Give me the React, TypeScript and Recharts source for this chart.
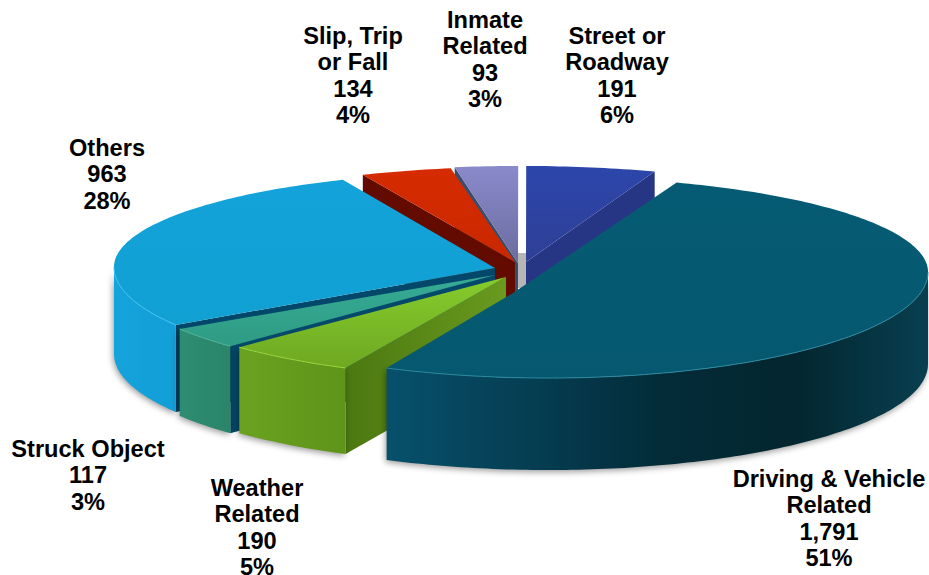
import { Pie, PieChart } from "recharts";

const names = [
  "Street or Roadway",
  "Inmate Related",
  "Slip, Trip or Fall",
  "Others",
  "Struck Object",
  "Weather Related",
  "Driving & Vehicle Related",
];
const incidents = [191, 93, 134, 963, 117, 190, 1791];
const shares = ["6%", "3%", "4%", "28%", "3%", "5%", "51%"];
const titleLines = [
  ["Street or", "Roadway"],
  ["Inmate", "Related"],
  ["Slip, Trip", "or Fall"],
  ["Others"],
  ["Struck Object"],
  ["Weather", "Related"],
  ["Driving & Vehicle", "Related"],
];

const chartData = names.map((name, i) => ({ name, value: incidents[i] }));

// label anchor: centre x and the baseline of the first line
const LABEL_POS = [
  [617, 44],
  [485, 28],
  [353, 44],
  [107, 156],
  [88, 457],
  [257, 496],
  [829, 487],
];

const TILT_BACK = 0.25;
const TILT_FRONT = 0.279;

interface SliceLook {
  shift: [number, number];
  apex: [number, number];
  depth: number;
  top: [string, string];
  rim: string[];
  wall: [string, string];
  edge?: string;
}

const LOOKS: SliceLook[] = [
  { shift: [8, -4], apex: [0, 1], depth: 85, top: ["#2c46ab", "#2f3f96"], rim: ["#253382"], wall: ["#263584", "#263584"] },
  { shift: [0, -4], apex: [0, 2], depth: 85, top: ["#8a8acb", "#6b6c9f"], rim: ["#55568a"], wall: ["#3b4d6c", "#3b4d6c"] },
  { shift: [-4, -3], apex: [1, 0], depth: 85, top: ["#d62b00", "#c92800"], rim: ["#650c00"], wall: ["#640b00", "#640b00"] },
  { shift: [-24, 2], apex: [1, 1], depth: 87, top: ["#13a3da", "#11a0d2"], rim: ["#15a3dc", "#129ed6"], wall: ["#03476b", "#03476b"], edge: "#3cc4f2" },
  { shift: [-20, 6], apex: [-3, 4], depth: 87, top: ["#36ab95", "#2f9c84"], rim: ["#2e8d72", "#2a8468"], wall: ["#04496a", "#04496a"], edge: "#55b89c" },
  { shift: [-11, 7], apex: [-1, 5], depth: 86, top: ["#86cc2c", "#6ea822"], rim: ["#6aa220", "#5e9419"], wall: ["#6a9a1e", "#4c7811"], edge: "#9ed840" },
  {
    shift: [30, 7],
    apex: [-35, 21],
    depth: 92,
    top: ["#065b74", "#05586f"],
    rim: ["#07506b", "#053f54", "#032c39", "#03262f", "#083f50"],
    wall: ["#04465c", "#04465c"],
    edge: "#2c8aa0",
  },
];

const toRad = (deg: number) => (deg * Math.PI) / 180;

// Sector drawn as a tilted slab: clockwise angle t from 12 o'clock, squashed by the tilt
function SlabSector(props: any) {
  const { cx, cy, outerRadius, startAngle, endAngle, index } = props;
  const look = LOOKS[index];
  const ox = cx + look.shift[0];
  const oy = cy + look.shift[1];
  const ax = ox + look.apex[0];
  const ay = oy + look.apex[1];

  const rimAt = (t: number): [number, number] => {
    const c = Math.cos(toRad(t));
    const ry = outerRadius * (c > 0 ? TILT_BACK : TILT_FRONT);
    return [ox + outerRadius * Math.sin(toRad(t)), oy - ry * c];
  };
  const walk = (a: number, b: number) => {
    const pts: [number, number][] = [];
    const n = Math.max(2, Math.ceil(Math.abs(b - a)));
    for (let i = 0; i <= n; i++) pts.push(rimAt(a + ((b - a) * i) / n));
    return pts;
  };
  const line = (pts: [number, number][]) =>
    pts.map((p, i) => `${i ? "L" : "M"}${p[0].toFixed(1)} ${p[1].toFixed(1)}`).join(" ");

  // clockwise angles run from t1 to t2, both kept in 0..360
  const t2 = ((90 - startAngle) % 360 + 360) % 360;
  let t1 = ((90 - endAngle) % 360 + 360) % 360;
  const end = t2 === 0 ? 360 : t2;
  if (t1 >= end) t1 -= 360;
  const arc = walk(t1, end);

  const depth = look.depth;
  const down = (p: [number, number]): [number, number] => [p[0], p[1] + depth];
  const apex: [number, number] = [ax, ay];

  // radial wall on whichever side faces the viewer
  const wallAt = Math.sin(toRad(t1)) < 0 ? t1 : Math.sin(toRad(end)) > 0 ? end : null;
  const wallPath =
    wallAt === null
      ? null
      : line([apex, rimAt(wallAt), down(rimAt(wallAt)), down(apex)]) + " Z";

  // outer wall only exists on the front half of the rim
  const from = Math.max(t1, 90);
  const to = Math.min(end, 270);
  const frontArc = to > from ? walk(from, to) : [];
  const rimPath = frontArc.length
    ? line(frontArc) + " " + line([...frontArc].reverse().map(down)).replace("M", "L") + " Z"
    : null;

  const rimId = `rim-${index}`;
  const topId = `top-${index}`;
  const wallId = `wall-${index}`;
  const xs = frontArc.map((p) => p[0]);
  return (
    <g>
      <defs>
        <linearGradient id={topId} x1="0" y1="0" x2="0" y2="1">
          <stop offset="0" stopColor={look.top[0]} />
          <stop offset="1" stopColor={look.top[1]} />
        </linearGradient>
        {wallAt !== null && (
          <linearGradient
            id={wallId}
            gradientUnits="userSpaceOnUse"
            x1={ax}
            y1="0"
            x2={rimAt(wallAt)[0]}
            y2="0"
          >
            <stop offset="0" stopColor={look.wall[0]} />
            <stop offset="1" stopColor={look.wall[1]} />
          </linearGradient>
        )}
        {xs.length > 0 && (
          <linearGradient
            id={rimId}
            gradientUnits="userSpaceOnUse"
            x1={Math.min(...xs)}
            y1="0"
            x2={Math.max(...xs)}
            y2="0"
          >
            {look.rim.map((c, i) => (
              <stop key={i} offset={look.rim.length > 1 ? i / (look.rim.length - 1) : 0} stopColor={c} />
            ))}
          </linearGradient>
        )}
      </defs>
      {index === 0 && <rect x={cx} y={cy - 12} width={8} height={35} fill="#b6b6b6" />}
      {wallPath && <path d={wallPath} fill={`url(#${wallId})`} />}
      {rimPath && (
        <path
          d={rimPath}
          fill={`url(#${rimId})`}
          style={{ filter: "drop-shadow(-1px 2px 3px rgba(0,0,0,0.4))" }}
        />
      )}
      <path d={line([apex, ...arc]) + " Z"} fill={`url(#${topId})`} />
      {look.edge && frontArc.length > 0 && (
        <path d={line(frontArc)} fill="none" stroke={look.edge} strokeWidth={1} />
      )}
    </g>
  );
}

function SliceLabel(props: any) {
  const { index } = props;
  const [x, y] = LABEL_POS[index];
  const lines = [...titleLines[index], incidents[index].toLocaleString("en-US"), shares[index]];
  return (
    <text
      x={x}
      y={y}
      textAnchor="middle"
      fontFamily="'Liberation Sans', Arial, sans-serif"
      fontWeight={700}
      fontSize={23.6}
      fill="#000"
    >
      {lines.map((t, i) => (
        <tspan key={i} x={x} dy={i ? 26.3 : 0}>
          {t}
        </tspan>
      ))}
    </text>
  );
}

export default function App() {
  return (
    <div style={{ position: "absolute", left: 0, top: 0, width: 929, height: 575, background: "#fff" }}>
      <PieChart width={929} height={575} margin={{ top: 0, right: 0, bottom: 0, left: 0 }}>
        <Pie
          data={chartData}
          dataKey="value"
          nameKey="name"
          cx={518}
          cy={265}
          outerRadius={380}
          innerRadius={0}
          startAngle={70.2}
          endAngle={430.2}
          stroke="none"
          isAnimationActive={false}
          shape={SlabSector}
          label={SliceLabel}
          labelLine={false}
        />
      </PieChart>
    </div>
  );
}
